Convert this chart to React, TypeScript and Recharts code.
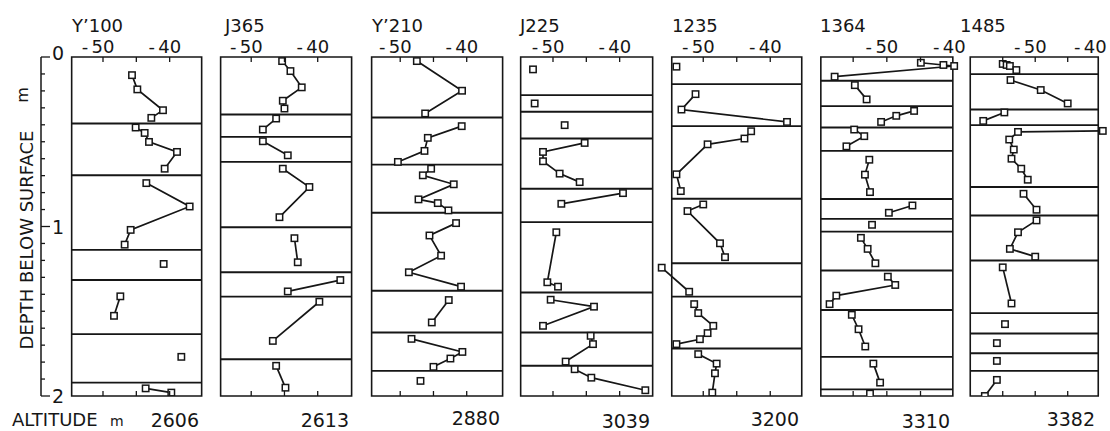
import React from 'react'
import { LineChart, Line, XAxis, YAxis, ReferenceLine, ReferenceArea } from 'recharts'

// [delta value, depth in m] for each sample; one inner array per annual layer
type Pt = [number, number]

const siteNames = ['Y’100', 'J365', 'Y’210', 'J225', '1235', '1364', '1485']
const altitudes = ['2606', '2613', '2880', '3039', '3200', '3310', '3382']

const y100Layers: Pt[][] = [
  [[-45.65, 0.107], [-44.85, 0.191], [-41.0, 0.314], [-42.75, 0.359]],
  [[-45.1, 0.416], [-43.75, 0.448], [-43.1, 0.501], [-38.9, 0.56], [-40.75, 0.659]],
  [[-43.5, 0.744], [-37.0, 0.882], [-45.85, 1.02], [-46.75, 1.107]],
  [[-40.9, 1.221]],
  [[-47.4, 1.412], [-48.35, 1.527]],
  [[-38.25, 1.769]],
  [[-43.6, 1.955], [-39.75, 1.98]]
]
const y100Breaks = [0.392, 0.698, 1.138, 1.316, 1.635, 1.921]

const j365Layers: Pt[][] = [
  [[-45.35, 0.024], [-44.1, 0.083], [-42.4, 0.179], [-45.25, 0.258], [-45.0, 0.304]],
  [[-46.25, 0.363], [-48.25, 0.428]],
  [[-48.25, 0.497], [-44.5, 0.58]],
  [[-45.25, 0.659], [-41.25, 0.767], [-45.75, 0.945]],
  [[-43.5, 1.069], [-43.0, 1.211]],
  [[-36.6, 1.316], [-44.5, 1.383]],
  [[-39.75, 1.444], [-46.75, 1.675]],
  [[-46.25, 1.822], [-44.85, 1.951]]
]
const j365Breaks = [0.339, 0.471, 0.619, 1.004, 1.27, 1.414, 1.783]

const y210Layers: Pt[][] = [
  [[-47.5, 0.024], [-40.7, 0.199], [-46.25, 0.333]],
  [[-40.75, 0.408], [-45.85, 0.477], [-46.35, 0.554], [-50.35, 0.619]],
  [[-45.35, 0.659], [-46.6, 0.698], [-41.95, 0.751], [-47.25, 0.84], [-44.35, 0.862], [-42.75, 0.905]],
  [[-41.6, 0.98], [-45.6, 1.053], [-43.85, 1.172], [-48.7, 1.27], [-40.85, 1.355]],
  [[-42.7, 1.434], [-45.25, 1.566]],
  [[-48.3, 1.663], [-40.65, 1.74], [-42.45, 1.779], [-45.0, 1.828]],
  [[-46.95, 1.911]]
]
const y210Breaks = [0.357, 0.635, 0.919, 1.379, 1.625, 1.852]

const j225Layers: Pt[][] = [
  [[-53.0, 0.073]],
  [[-52.75, 0.274]],
  [[-48.25, 0.402]],
  [[-45.25, 0.507], [-51.5, 0.56], [-51.5, 0.615], [-49.0, 0.688], [-46.0, 0.738]],
  [[-39.5, 0.803], [-48.75, 0.866]],
  [[-49.5, 1.034], [-50.85, 1.329], [-49.25, 1.355]],
  [[-50.35, 1.432], [-43.85, 1.473], [-51.5, 1.586]],
  [[-44.35, 1.645], [-44.0, 1.694], [-48.1, 1.797]],
  [[-46.75, 1.842], [-44.25, 1.892], [-36.15, 1.966]]
]
const j225Breaks = [0.225, 0.323, 0.481, 0.777, 0.974, 1.389, 1.625, 1.822]

const s1235Layers: Pt[][] = [
  [[-54.0, 0.057]],
  [[-51.15, 0.219], [-53.25, 0.31], [-37.5, 0.383]],
  [[-42.85, 0.438], [-43.85, 0.481], [-49.35, 0.515], [-54.0, 0.692], [-53.35, 0.791]],
  [[-50.0, 0.87], [-52.35, 0.909], [-47.5, 1.099], [-46.75, 1.181]],
  [[-56.2, 1.243], [-52.1, 1.385]],
  [[-51.35, 1.458], [-50.75, 1.511], [-48.5, 1.586], [-49.35, 1.629], [-50.5, 1.665], [-54.0, 1.694]],
  [[-50.75, 1.753], [-48.0, 1.809], [-48.25, 1.866], [-48.65, 1.98]]
]
const s1235Breaks = [0.16, 0.408, 0.836, 1.217, 1.414, 1.72]

const s1364Layers: Pt[][] = [
  [[-44.95, 0.034], [-41.6, 0.047], [-40.0, 0.053], [-57.75, 0.116]],
  [[-54.75, 0.166], [-53.0, 0.25]],
  [[-45.95, 0.318], [-48.6, 0.347], [-50.85, 0.383]],
  [[-54.85, 0.428], [-53.35, 0.467], [-56.0, 0.527]],
  [[-52.6, 0.606], [-53.25, 0.694], [-52.5, 0.797]],
  [[-46.2, 0.876], [-49.7, 0.919]],
  [[-52.2, 0.99]],
  [[-53.85, 1.067], [-52.85, 1.132], [-51.7, 1.217]],
  [[-49.85, 1.296], [-48.75, 1.345], [-57.5, 1.408], [-58.5, 1.458]],
  [[-55.2, 1.521], [-54.2, 1.606], [-53.2, 1.708]],
  [[-52.0, 1.809], [-51.0, 1.921]],
  [[-52.5, 1.986]]
]
const s1364Breaks = [0.14, 0.29, 0.416, 0.554, 0.838, 0.955, 1.03, 1.26, 1.493, 1.769, 1.961]

const s1485Layers: Pt[][] = [
  [[-55.0, 0.041], [-54.4, 0.047], [-53.9, 0.053], [-52.9, 0.077]],
  [[-53.8, 0.136], [-49.15, 0.195], [-45.0, 0.274]],
  [[-54.75, 0.327], [-58.0, 0.377]],
  [[-39.6, 0.436], [-52.65, 0.442], [-54.0, 0.487], [-53.3, 0.546], [-53.65, 0.6], [-52.15, 0.659], [-51.15, 0.724]],
  [[-51.8, 0.807], [-49.8, 0.901]],
  [[-49.8, 0.964], [-52.65, 1.034], [-53.9, 1.132], [-50.0, 1.178]],
  [[-55.0, 1.241], [-53.65, 1.454]],
  [[-54.65, 1.576]],
  [[-55.9, 1.688]],
  [[-55.9, 1.793]],
  [[-55.9, 1.905], [-57.75, 2.0]]
]
const s1485Breaks = [0.101, 0.31, 0.402, 0.767, 0.935, 1.201, 1.511, 1.631, 1.748, 1.852]

// tick marks and labelled values on the top axis
const warmTickMarks = [-50, -45, -40]
const coldTickMarks = [-55, -50, -45]
const tickLabelValues = [-50, -40]
const depthTicks = [0, 0.1, 0.2, 0.3, 0.4, 0.5, 0.6, 0.7, 0.8, 0.9, 1, 1.1, 1.2, 1.3, 1.4, 1.5, 1.6, 1.7, 1.8, 1.9, 2]

const allLayers = [y100Layers, j365Layers, y210Layers, j225Layers, s1235Layers, s1364Layers, s1485Layers]
const allBreaks = [y100Breaks, j365Breaks, y210Breaks, j225Breaks, s1235Breaks, s1364Breaks, s1485Breaks]

// frame geometry in page pixels, plus the value range the frame spans
const panels = [
  { left: 72, right: 202, lo: -54.7, hi: -35.2, marks: warmTickMarks, titleX: 72, altY: 427, lastShift: 0 },
  { left: 221, right: 352, lo: -54.6, hi: -34.9, marks: warmTickMarks, titleX: 225, altY: 427, lastShift: 0 },
  { left: 372, right: 503, lo: -54.3, hi: -34.6, marks: warmTickMarks, titleX: 372, altY: 425, lastShift: 0 },
  { left: 521, right: 653, lo: -54.85, hi: -35.05, marks: warmTickMarks, titleX: 520, altY: 428, lastShift: 0 },
  { left: 672, right: 802, lo: -54.7, hi: -35.3, marks: warmTickMarks, titleX: 672, altY: 426, lastShift: 0 },
  { left: 821, right: 953, lo: -59.8, hi: -40.2, marks: coldTickMarks, titleX: 820, altY: 428, lastShift: 0 },
  { left: 970, right: 1098, lo: -60, hi: -40.3, marks: coldTickMarks, titleX: 960, altY: 426, lastShift: -5 }
]

const TOP = 57
const BOTTOM = 396
const H = 431
const INK = '#161616'
const FONT = '"DejaVu Sans", sans-serif'

const SquareDot = (p: any) => {
  if (p.cx == null || p.cy == null) return <g key={p.index} />
  return (
    <rect
      key={p.index}
      x={p.cx - 3.2}
      y={p.cy - 3.2}
      width={6.4}
      height={6.4}
      fill="#fff"
      stroke={INK}
      strokeWidth={1.5}
    />
  )
}

const Panel = ({ idx }: { idx: number }) => {
  const g = panels[idx]
  const k = (g.right - g.left) / (g.hi - g.lo)
  const padL = 2.5
  const padR = 3
  const dMin = g.lo - padL
  const dMax = g.hi + padR
  const w = k * (dMax - dMin)
  const axisTicks = Array.from(new Set([...g.marks, ...tickLabelValues])).sort((a, b) => a - b)

  const topTick = (p: any) => {
    const v = p.payload.value
    const sx = v === -40 ? g.lastShift : 0
    return (
      <g key={p.index}>
        {g.marks.includes(v) && (
          <line x1={p.x} x2={p.x} y1={p.y} y2={p.y + 5} stroke={INK} strokeWidth={1.3} />
        )}
        {tickLabelValues.includes(v) && (
          <g fontFamily={FONT} fontSize={18} fill={INK}>
            <text x={p.x + sx} y={p.y - 4} textAnchor="middle">{String(Math.abs(v))}</text>
            <text x={p.x + sx - 18} y={p.y - 4} textAnchor="middle">-</text>
          </g>
        )}
      </g>
    )
  }

  const bottomTick = (p: any) => {
    const v = p.payload.value
    if (!g.marks.includes(v)) return <g key={p.index} />
    return <line key={p.index} x1={p.x} x2={p.x} y1={p.y} y2={p.y - 5} stroke={INK} strokeWidth={1.3} />
  }

  return (
    <div style={{ position: 'absolute', left: g.left - padL * k, top: 0 }}>
      <LineChart width={w} height={H} margin={{ top: TOP - 1, bottom: H - BOTTOM - 1, left: 0, right: 0 }}>
        <XAxis
          type="number"
          dataKey="v"
          orientation="top"
          domain={[dMin, dMax]}
          allowDataOverflow
          ticks={axisTicks}
          interval={0}
          height={1}
          axisLine={false}
          tickLine={false}
          tickSize={0}
          tickMargin={0}
          tick={topTick}
        />
        <XAxis
          xAxisId="b"
          type="number"
          dataKey="v"
          orientation="bottom"
          domain={[dMin, dMax]}
          allowDataOverflow
          ticks={g.marks}
          interval={0}
          height={1}
          axisLine={false}
          tickLine={false}
          tickSize={0}
          tickMargin={0}
          tick={bottomTick}
        />
        <YAxis type="number" dataKey="d" domain={[0, 2]} reversed hide allowDataOverflow />
        <ReferenceArea x1={g.lo} x2={g.hi} y1={0} y2={2} fill="none" stroke={INK} strokeWidth={1.6} fillOpacity={0} />
        {allBreaks[idx].map((b, i) => (
          <ReferenceLine
            key={'b' + i}
            segment={[{ x: g.lo, y: b }, { x: g.hi, y: b }]}
            stroke={INK}
            strokeWidth={1.9}
          />
        ))}
        {allLayers[idx].map((layer, i) => (
          <Line
            key={'l' + i}
            data={layer.map(([v, d]) => ({ v, d }))}
            dataKey="d"
            stroke={INK}
            strokeWidth={1.7}
            dot={SquareDot}
            activeDot={false}
            isAnimationActive={false}
          />
        ))}
      </LineChart>
    </div>
  )
}

const depthTick = (p: any) => {
  const v = p.payload.value
  const major = Number.isInteger(v)
  const len = major ? 9 : 4
  return (
    <g key={p.index}>
      <line x1={p.x} x2={p.x + len} y1={p.y} y2={p.y} stroke={INK} strokeWidth={1.3} />
      {major && (
        <text
          x={p.x + len + 2}
          y={p.y + (v === 0 ? 3 : 7)}
          fontFamily={FONT}
          fontSize={19}
          fill={INK}
        >
          {String(v)}
        </text>
      )}
    </g>
  )
}

// depth scale on the left, with an empty series so the axis has a data set to scale
const DepthAxis = () => (
  <div style={{ position: 'absolute', left: 0, top: 0 }}>
    <LineChart width={72} height={H} margin={{ top: TOP, bottom: H - BOTTOM, left: 30, right: 0 }}>
      <XAxis type="number" dataKey="v" domain={[-60, -35]} allowDataOverflow hide />
      <YAxis
        type="number"
        dataKey="d"
        orientation="right"
        domain={[0, 2]}
        allowDataOverflow
        reversed
        ticks={depthTicks}
        interval={0}
        width={31}
        axisLine={{ stroke: INK, strokeWidth: 1.5 }}
        tickLine={false}
        tickSize={0}
        tickMargin={0}
        tick={depthTick}
      />
      <Line data={[]} dataKey="d" stroke="none" dot={false} isAnimationActive={false} />
    </LineChart>
  </div>
)

export default function App() {
  return (
    <div style={{ position: 'absolute', left: 0, top: 0, width: 1110, height: H, background: '#fff', overflow: 'hidden' }}>
      <DepthAxis />
      {panels.map((_, i) => (
        <Panel key={i} idx={i} />
      ))}
      <svg
        width={1110}
        height={H}
        style={{ position: 'absolute', left: 0, top: 0, pointerEvents: 'none' }}
        fontFamily={FONT}
        fill={INK}
      >
        {panels.map((g, i) => (
          <text key={'t' + i} x={g.titleX} y={32} fontSize={18}>
            {siteNames[i]}
          </text>
        ))}
        {panels.map((g, i) => (
          <text key={'a' + i} x={g.right - 3} y={g.altY} fontSize={19} textAnchor="end">
            {altitudes[i]}
          </text>
        ))}
        <text
          x={26}
          y={240}
          fontSize={18}
          textAnchor="middle"
          dominantBaseline="central"
          transform="rotate(-90 26 240)"
        >
          DEPTH BELOW SURFACE
        </text>
        <text x={22} y={95} fontSize={16} textAnchor="middle" dominantBaseline="central" transform="rotate(-90 22 95)">
          m
        </text>
        <text x={12} y={426} fontSize={18}>ALTITUDE</text>
        <text x={110} y={426} fontSize={14}>m</text>
      </svg>
    </div>
  )
}
